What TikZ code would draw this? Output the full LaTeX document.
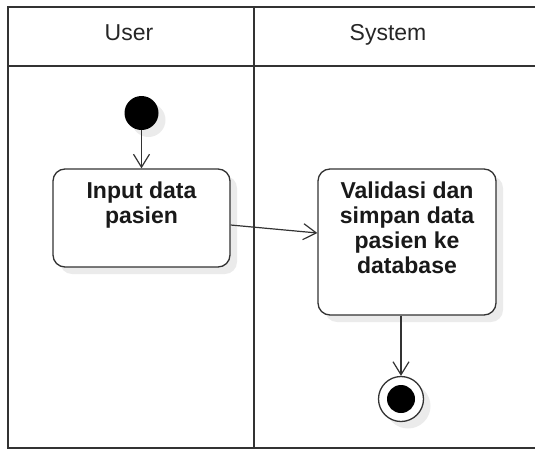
\documentclass[tikz,border=0pt]{standalone}
\usepackage{fontspec}
\setmainfont{Liberation Sans}
\usetikzlibrary{arrows.meta,shadows}
\usetikzlibrary{positioning}

\tikzset{
lane/.style={draw=black!80,line width=1.5pt},
lanehead/.style={anchor=base,font=\fontsize{23}{25}\selectfont,text=black!85},
softshadow/.style={drop shadow={shadow xshift=7pt,shadow yshift=-7pt,fill=black!8,opacity=1}},
actbox/.style={rectangle,rounded corners=12pt,draw=black!80,line width=1.3pt,fill=white,softshadow},
acttext/.style={inner sep=0pt,align=center,font=\fontsize{23}{25}\selectfont\bfseries,text=black!90},
flow/.style={draw=black!80,line width=1.2pt,-{Straight Barb[length=13pt,width=16pt]}},
}

\begin{document}
\begin{tikzpicture}[x=1pt,y=-1pt]
\useasboundingbox (0,0) rectangle (535,450);
\clip (0,0) rectangle (535,450);
\draw[lane] (8,7) rectangle (545,448);
\draw[lane] (8,66) -- (545,66);
\draw[lane] (254,7) -- (254,448);
\node at (129,40)[lanehead](userhead){User};
\node at (388,40)[lanehead](syshead){System};
\node at (141.5,113)[circle,fill=black,minimum size=34pt,inner sep=0pt,softshadow](start){};
\node at (141.5,218)[actbox,minimum width=177pt,minimum height=98pt](inputbox){};
\node[acttext,below=13pt of inputbox.north](inputtext){Input data\\pasien};
\node at (407,242)[actbox,minimum width=178pt,minimum height=146pt](validbox){};
\node[acttext,below=13pt of validbox.north](validtext){Validasi dan\\simpan data\\pasien ke\\database};
\node at (401,399)[circle,draw=black!80,line width=1.3pt,fill=white,minimum size=45pt,inner sep=0pt,softshadow](final){};
\node at (final)[circle,fill=black,minimum size=28pt,inner sep=0pt](finaldot){};
\draw[flow] (start) -- (inputbox);
\draw[flow] ([yshift=-7pt]inputbox.east) -- ([yshift=9pt]validbox.west);
\draw[flow] (validbox.south -| final) -- (final);
\end{tikzpicture}
\end{document}
